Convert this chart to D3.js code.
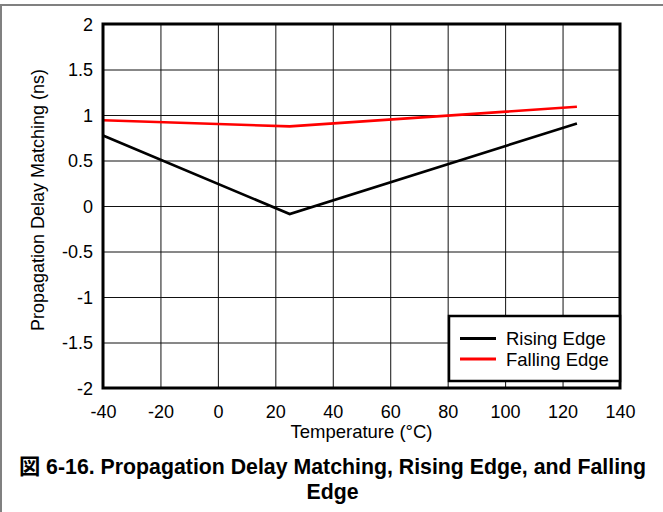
<!DOCTYPE html>
<html>
<head>
<meta charset="utf-8">
<script src="https://cdn.jsdelivr.net/npm/d3@7"></script>
<style>
  html, body { margin: 0; padding: 0; background: #fff; }
  svg { display: block; }
  text { font-family: "Liberation Sans", Arial, "Noto Sans CJK JP", sans-serif; fill: #000; }
</style>
</head>
<body>
<div id="chart"></div>
<script>
// ── Data ────────────────────────────────────────────────────────────────────
const temps       = [-40, 25, 125];
const risingEdge  = [0.774, -0.088, 0.907];
const fallingEdge = [0.942, 0.875, 1.09];

const xTicks = [-40, -20, 0, 20, 40, 60, 80, 100, 120, 140];
const yTicks = [-2, -1.5, -1, -0.5, 0, 0.5, 1, 1.5, 2];

const seriesNames  = ['Rising Edge', 'Falling Edge'];
const seriesColors = ['#000000', '#ff0000'];

const titleLines = ['図 6-16. Propagation Delay Matching, Rising Edge, and Falling', 'Edge'];

// ── Layout ──────────────────────────────────────────────────────────────────
const width = 663, height = 512;
const plotL = 103, plotR = 620, plotT = 24, plotB = 388;

// Plain hyphen-minus like the reference, not d3's U+2212.
const fmt = d => String(d);

const svg = d3.select('#chart').append('svg')
  .attr('width', width).attr('height', height);

// Gray page frame (top + left edges only show in the crop)
svg.append('path')
  .attr('d', `M1,${height} L1,5 L${width},5`)
  .attr('fill', 'none').attr('stroke', '#808080').attr('stroke-width', 2);

const x = d3.scaleLinear().domain([-40, 140]).range([plotL, plotR]);
const y = d3.scaleLinear().domain([-2, 2]).range([plotB, plotT]);

// Grid
const grid = svg.append('g');
grid.append('g')
  .attr('transform', `translate(0,${plotB})`)
  .call(d3.axisBottom(x).tickValues(xTicks).tickSize(-(plotB - plotT)).tickFormat(''))
  .call(g => g.select('.domain').remove())
  .call(g => g.selectAll('line').attr('stroke', '#111').attr('stroke-width', 1));
grid.append('g')
  .attr('transform', `translate(${plotL},0)`)
  .call(d3.axisLeft(y).tickValues(yTicks).tickSize(-(plotR - plotL)).tickFormat(''))
  .call(g => g.select('.domain').remove())
  .call(g => g.selectAll('line').attr('stroke', '#111').attr('stroke-width', 1));

// Tick labels
const xAxisG = svg.append('g')
  .attr('transform', `translate(0,${plotB})`)
  .call(d3.axisBottom(x).tickValues(xTicks).tickSize(0).tickPadding(0).tickFormat(fmt));
xAxisG.select('.domain').remove();
xAxisG.selectAll('text')
  .attr('y', 29.5).attr('dy', null)
  .attr('font-size', 18).attr('font-family', null).attr('fill', '#000');

const yAxisG = svg.append('g')
  .attr('transform', `translate(${plotL},0)`)
  .call(d3.axisLeft(y).tickValues(yTicks).tickSize(0).tickPadding(0).tickFormat(fmt));
yAxisG.select('.domain').remove();
yAxisG.selectAll('text')
  .attr('x', -10).attr('dy', '0.36em')
  .attr('font-size', 18).attr('font-family', null).attr('fill', '#000');

// Series lines
const line = d3.line().x(d => x(d.t)).y(d => y(d.v));
[risingEdge, fallingEdge].forEach((vals, i) => {
  svg.append('path')
    .datum(temps.map((t, k) => ({ t, v: vals[k] })))
    .attr('d', line)
    .attr('fill', 'none')
    .attr('stroke', seriesColors[i])
    .attr('stroke-width', 2.6)
    .attr('stroke-linejoin', 'miter');
});

// Plot frame
svg.append('rect')
  .attr('x', plotL).attr('y', plotT)
  .attr('width', plotR - plotL).attr('height', plotB - plotT)
  .attr('fill', 'none').attr('stroke', '#000').attr('stroke-width', 3);

// Legend
const lg = svg.append('g');
lg.append('rect')
  .attr('x', 449).attr('y', 316).attr('width', plotR - 449).attr('height', 65)
  .attr('fill', '#fff').attr('stroke', '#000').attr('stroke-width', 2.5);
seriesNames.forEach((name, i) => {
  const cy = 338.5 + i * 20.5;
  lg.append('line')
    .attr('x1', 460).attr('x2', 496).attr('y1', cy).attr('y2', cy)
    .attr('stroke', seriesColors[i]).attr('stroke-width', 3);
  lg.append('text')
    .attr('x', 506).attr('y', cy + 6.8)
    .attr('font-size', 18.5)
    .text(name);
});

// Axis titles
svg.append('text')
  .attr('x', (plotL + plotR) / 2).attr('y', 438)
  .attr('text-anchor', 'middle').attr('font-size', 18.5)
  .text('Temperature (°C)');
svg.append('text')
  .attr('transform', `translate(44,200) rotate(-90)`)
  .attr('text-anchor', 'middle').attr('font-size', 18)
  .text('Propagation Delay Matching (ns)');

// Figure caption
titleLines.forEach((t, i) => {
  svg.append('text')
    .attr('x', 332.5).attr('y', 473.5 + i * 25)
    .attr('text-anchor', 'middle')
    .attr('font-size', 21.3).attr('font-weight', 'bold')
    .text(t);
});
</script>
</body>
</html>
